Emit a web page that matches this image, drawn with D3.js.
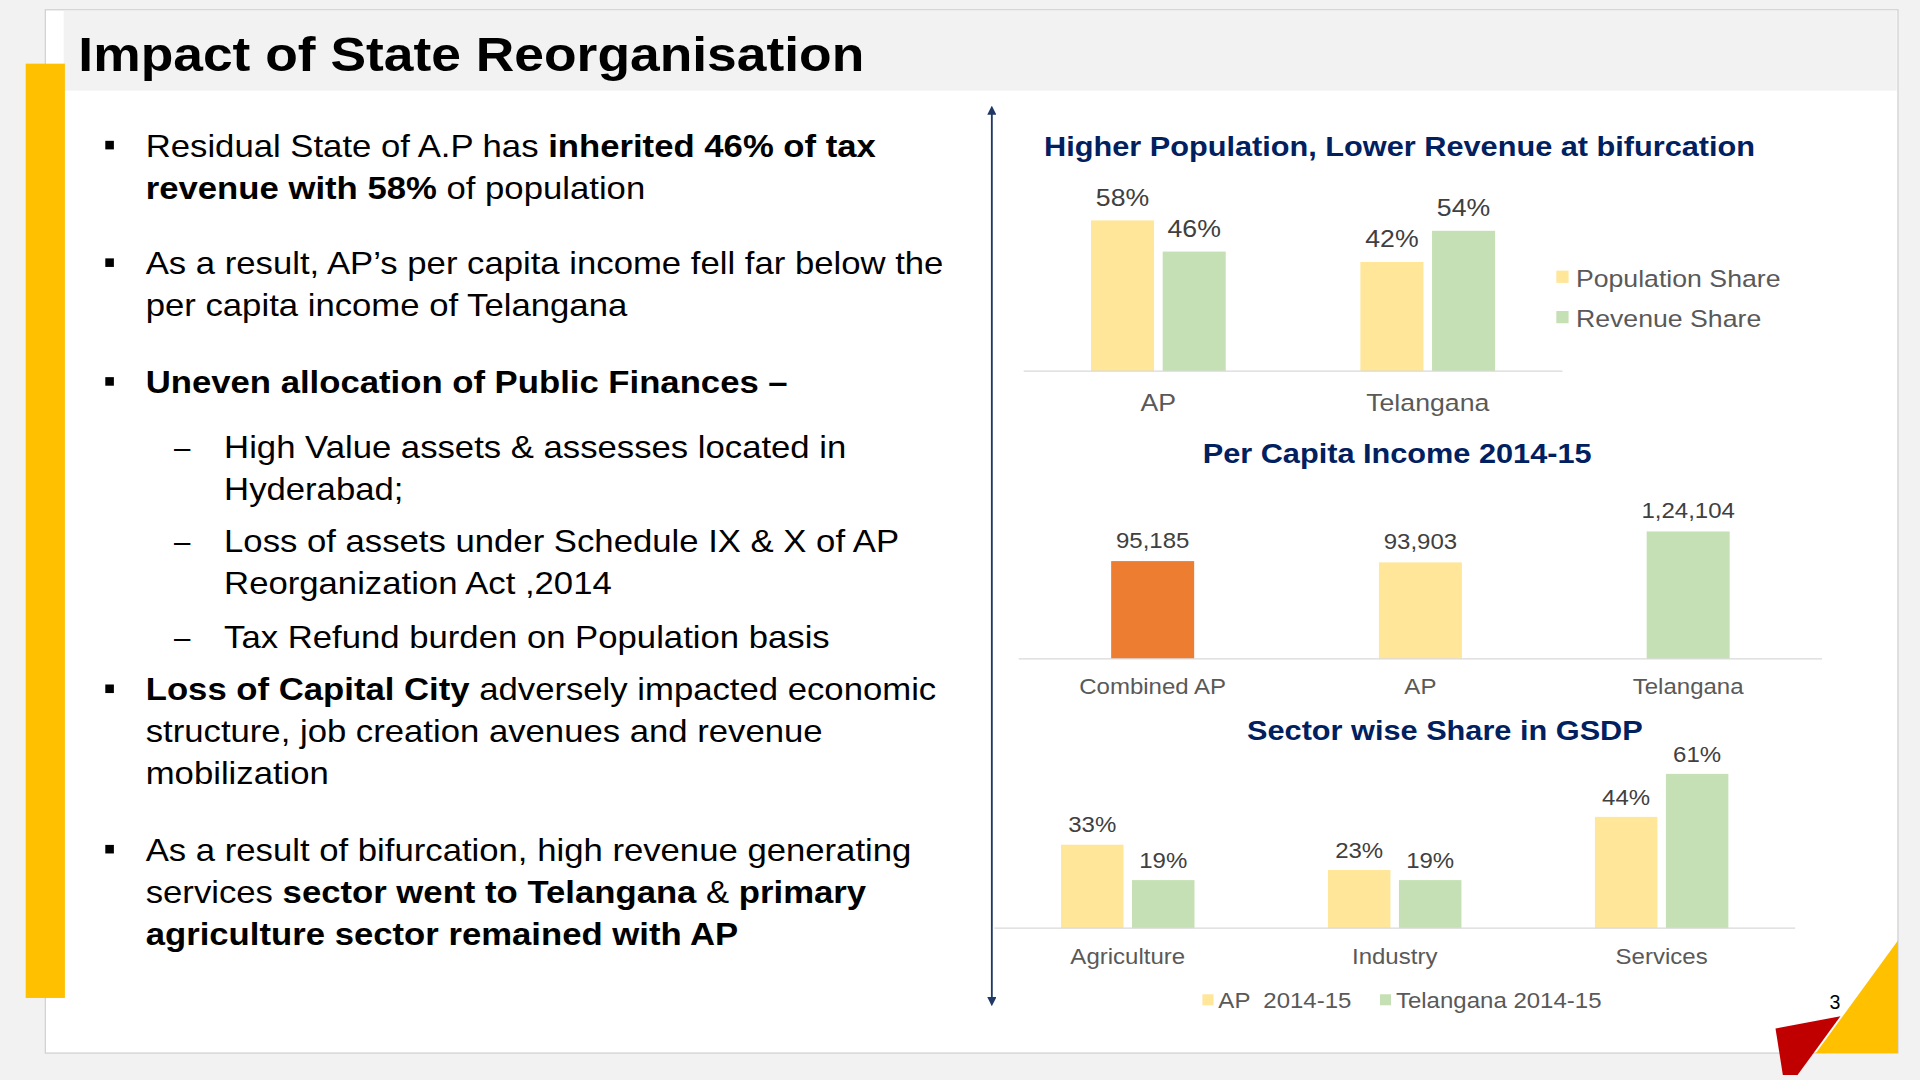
<!DOCTYPE html>
<html lang="en">
<head>
<meta charset="UTF-8">
<title>Impact of State Reorganisation</title>
<script src="https://d3js.org/d3.v7.min.js"></script>
<style>
  body { margin: 0; background: #f2f2f2; font-family: Arial, "Liberation Sans", sans-serif; }
  text { font-family: Arial, "Liberation Sans", sans-serif; }
</style>
</head>
<body>
<div id="slide"></div>
<script>
// ------------------------ Data ------------------------
const popCats = ["AP", "Telangana"];
const popSeries = ["Population Share", "Revenue Share"];
const popValues = [[58, 46], [42, 54]];

const pciCats = ["Combined AP", "AP", "Telangana"];
const pciValues = [95185, 93903, 124104];
const pciLabels = ["95,185", "93,903", "1,24,104"];

const sectorCats = ["Agriculture", "Industry", "Services"];
const sectorSeries = ["AP  2014-15", "Telangana 2014-15"];
const sectorValues = [[33, 19], [23, 19], [44, 61]];

const YELLOW = "#ffe699", GREEN = "#c5e0b4", ORANGE = "#ed7d31", NAVY = "#002060";

// bullet text: array of lines, each line = list of [text, bold]
const bullets = [
  { sub: false, y: 128, lines: [[["Residual State of A.P has ", 0], ["inherited 46% of tax", 1]], [["revenue with 58%", 1], [" of population", 0]]] },
  { sub: false, y: 224, lines: [[["As a result, AP\u2019s per capita income fell far below the", 0]], [["per capita income of Telangana", 0]]] },
  { sub: false, y: 321, lines: [[["Uneven allocation of Public Finances \u2013", 1]]] },
  { sub: true, y: 374, lines: [[["High Value assets & assesses located in", 0]], [["Hyderabad;", 0]]] },
  { sub: true, y: 451, lines: [[["Loss of assets under Schedule IX & X of AP", 0]], [["Reorganization Act ,2014", 0]]] },
  { sub: true, y: 529, lines: [[["Tax Refund burden on Population basis", 0]]] },
  { sub: false, y: 572, lines: [[["Loss of Capital City", 1], [" adversely impacted economic", 0]], [["structure, job creation avenues and revenue", 0]], [["mobilization", 0]]] },
  { sub: false, y: 703, lines: [[["As a result of bifurcation, high revenue generating", 0]], [["services ", 0], ["sector went to Telangana", 1], [" & ", 0], ["primary", 1]], [["agriculture sector remained with AP", 1]]] }
];

// ------------------------ Slide frame ------------------------
const svg = d3.select("#slide").append("svg")
  .attr("width", 1920).attr("height", 1080)
  .attr("viewBox", "0 0 1568 882");

svg.append("rect").attr("width", 1568).attr("height", 882).attr("fill", "#f2f2f2");
svg.append("rect").attr("x", 37).attr("y", 8).attr("width", 1513).attr("height", 852)
  .attr("fill", "#fff").attr("stroke", "#d0d0d0");
svg.append("rect").attr("x", 52).attr("y", 9).attr("width", 1497).attr("height", 65).attr("fill", "#f2f2f2");
svg.append("rect").attr("x", 21).attr("y", 52).attr("width", 32).attr("height", 763).attr("fill", "#ffc000");
svg.append("text").attr("x", 64).attr("y", 58).attr("font-size", 40).attr("font-weight", "bold")
  .attr("fill", "#000").text("Impact of State Reorganisation");

// bullets
bullets.forEach(b => {
  const tx = b.sub ? 183 : 119;
  if (b.sub) {
    svg.append("text").attr("x", 142).attr("y", b.y).attr("font-size", 24).attr("class", "nostretch").text("\u2013");
  } else {
    svg.append("rect").attr("x", 86).attr("y", b.y - 13).attr("width", 7).attr("height", 7).attr("fill", "#000");
  }
  b.lines.forEach((line, i) => {
    const t = svg.append("text").attr("x", tx).attr("y", b.y + i * 34.3).attr("font-size", 26).attr("fill", "#000");
    line.forEach(([s, bold]) => t.append("tspan").attr("font-weight", bold ? "bold" : "normal").text(s));
  });
});

// divider arrow
svg.append("defs").selectAll("marker").data(["s", "e"]).join("marker")
  .attr("id", d => "arr" + d).attr("viewBox", "0 0 10 10").attr("refX", 5).attr("refY", 5)
  .attr("markerWidth", 5).attr("markerHeight", 5).attr("orient", "auto-start-reverse")
  .append("path").attr("d", "M0,0L10,5L0,10z").attr("fill", "#1f3864");
svg.append("line").attr("x1", 810).attr("x2", 810).attr("y1", 90).attr("y2", 818)
  .attr("stroke", "#1f3864").attr("stroke-width", 1.5)
  .attr("marker-start", "url(#arrs)").attr("marker-end", "url(#arre)");

function title(x, y, s) {
  svg.append("text").attr("x", x).attr("y", y).attr("text-anchor", "middle")
    .attr("font-size", 23).attr("font-weight", "bold").attr("fill", NAVY).text(s);
}

// ------------------------ Chart 1 ------------------------
title(1143, 127, "Higher Population, Lower Revenue at bifurcation");
{
  const base = 303;
  const x0 = d3.scaleBand().domain(popCats).range([836, 1276]).paddingInner(0.5).paddingOuter(0.25);
  const x1 = d3.scaleBand().domain(popSeries).range([0, x0.bandwidth()]).paddingInner(0.12);
  const y = d3.scaleLinear().domain([0, 58]).range([base, 180]);
  const colors = [YELLOW, GREEN];
  popCats.forEach((c, ci) => popValues[ci].forEach((v, si) => {
    const bx = x0(c) + x1(popSeries[si]);
    svg.append("rect").attr("x", bx).attr("y", y(v)).attr("width", x1.bandwidth())
      .attr("height", base - y(v)).attr("fill", colors[si]);
    svg.append("text").attr("x", bx + x1.bandwidth() / 2).attr("y", y(v) - 12).attr("text-anchor", "middle")
      .attr("font-size", 20).attr("fill", "#404040").text(v + "%");
  }));
  svg.append("line").attr("x1", 836).attr("x2", 1276).attr("y1", base).attr("y2", base).attr("stroke", "#d9d9d9");
  popCats.forEach(c => svg.append("text").attr("x", x0(c) + x0.bandwidth() / 2).attr("y", 336)
    .attr("text-anchor", "middle").attr("font-size", 20).attr("fill", "#595959").text(c));
  popSeries.forEach((s, i) => {
    svg.append("rect").attr("x", 1271).attr("y", 221 + i * 33).attr("width", 10).attr("height", 10).attr("fill", colors[i]);
    svg.append("text").attr("x", 1287).attr("y", 234 + i * 33).attr("font-size", 20).attr("fill", "#595959").text(s);
  });
}

// ------------------------ Chart 2 ------------------------
title(1141, 378, "Per Capita Income 2014-15");
{
  const base = 538;
  const x = d3.scaleBand().domain(pciCats).range([832, 1488]).paddingInner(0.69).paddingOuter(0.345);
  const y = d3.scaleLinear().domain([0, 124104]).range([base, 434]);
  const colors = [ORANGE, YELLOW, GREEN];
  pciCats.forEach((c, i) => {
    svg.append("rect").attr("x", x(c)).attr("y", y(pciValues[i])).attr("width", x.bandwidth())
      .attr("height", base - y(pciValues[i])).attr("fill", colors[i]);
    svg.append("text").attr("x", x(c) + x.bandwidth() / 2).attr("y", y(pciValues[i]) - 11).attr("text-anchor", "middle")
      .attr("font-size", 18).attr("fill", "#404040").text(pciLabels[i]);
    svg.append("text").attr("x", x(c) + x.bandwidth() / 2).attr("y", 567).attr("text-anchor", "middle")
      .attr("font-size", 18).attr("fill", "#595959").text(c);
  });
  svg.append("line").attr("x1", 832).attr("x2", 1488).attr("y1", base).attr("y2", base).attr("stroke", "#d9d9d9");
}

// ------------------------ Chart 3 ------------------------
title(1180, 604, "Sector wise Share in GSDP");
{
  const base = 758;
  const x0 = d3.scaleBand().domain(sectorCats).range([812, 1466]).paddingInner(0.5).paddingOuter(0.25);
  const x1 = d3.scaleBand().domain(sectorSeries).range([0, x0.bandwidth()]).paddingInner(0.12);
  const y = d3.scaleLinear().domain([0, 61]).range([base, 632]);
  const colors = [YELLOW, GREEN];
  sectorCats.forEach((c, ci) => sectorValues[ci].forEach((v, si) => {
    const bx = x0(c) + x1(sectorSeries[si]);
    svg.append("rect").attr("x", bx).attr("y", y(v)).attr("width", x1.bandwidth())
      .attr("height", base - y(v)).attr("fill", colors[si]);
    svg.append("text").attr("x", bx + x1.bandwidth() / 2).attr("y", y(v) - 10).attr("text-anchor", "middle")
      .attr("font-size", 18).attr("fill", "#404040").text(v + "%");
  }));
  svg.append("line").attr("x1", 812).attr("x2", 1466).attr("y1", base).attr("y2", base).attr("stroke", "#d9d9d9");
  sectorCats.forEach(c => svg.append("text").attr("x", x0(c) + x0.bandwidth() / 2).attr("y", 787)
    .attr("text-anchor", "middle").attr("font-size", 18).attr("fill", "#595959").text(c));
  const lx = [982, 1127];
  sectorSeries.forEach((s, i) => {
    svg.append("rect").attr("x", lx[i]).attr("y", 812).attr("width", 9).attr("height", 9).attr("fill", colors[i]);
    svg.append("text").attr("x", lx[i] + 13).attr("y", 823).attr("font-size", 18).attr("fill", "#595959")
      .attr("xml:space", "preserve").style("white-space", "pre").text(s);
  });
}

// corner decoration + page number
svg.append("path").attr("d", "M1550,768L1550,860L1483,860Z").attr("fill", "#ffc000");
svg.append("path").attr("d", "M1450,840L1503,830L1468,878L1456,878Z").attr("fill", "#c00000");
svg.append("text").attr("x", 1494).attr("y", 824).attr("font-size", 16).attr("fill", "#000").attr("class", "nostretch")
  .attr("font-family", "Times New Roman, Liberation Serif, serif").text("3");

// slide font renders slightly wider than Liberation Sans: stretch text horizontally
svg.selectAll("text:not(.nostretch)").each(function () {
  const len = this.getComputedTextLength();
  d3.select(this).attr("textLength", len * 1.09).attr("lengthAdjust", "spacingAndGlyphs");
});
</script>
</body>
</html>
